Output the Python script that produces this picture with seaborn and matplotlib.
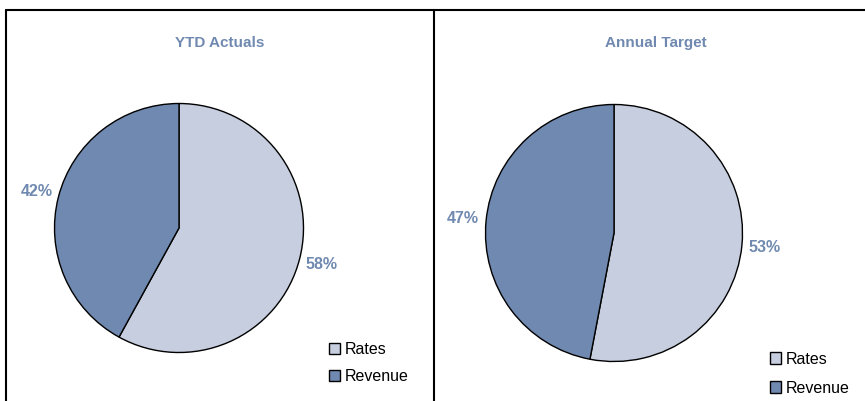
import matplotlib
matplotlib.use("Agg")
import matplotlib.pyplot as plt
import seaborn as sns
from matplotlib.lines import Line2D

# Data
categories = ["Rates", "Revenue"]
ytd_actuals = [58, 42]
annual_target = [53, 47]
titles = ["YTD Actuals", "Annual Target"]

sns.set_theme(style="white")
plt.rcParams["font.family"] = ["Liberation Sans", "DejaVu Sans"]

colors = sns.color_palette(["#c6cedf", "#7089b0"])
label_color = "#7089b0"

W, H = 865, 401
fig = plt.figure(figsize=(W / 100, H / 100), dpi=100)
fig.patch.set_facecolor("white")


def fx(px):
    return px / W


def fy(py):
    return 1 - py / H


panels = [
    dict(values=ytd_actuals, title=titles[0], center=(179, 228), r=124.5,
         title_x=220, legend_xy=(329, 342), spacing=0.78),
    dict(values=annual_target, title=titles[1], center=(614, 233), r=128.5,
         title_x=656, legend_xy=(770, 351.5), spacing=0.88),
]

for p in panels:
    cx, cy = p["center"]
    r = p["r"]
    ax = fig.add_axes([(cx - r) / W, (H - cy - r) / H, 2 * r / W, 2 * r / H])
    wedges, _, autotexts = ax.pie(
        p["values"],
        colors=colors,
        startangle=90,
        counterclock=False,
        autopct=lambda v: f"{v:.0f}%",
        pctdistance=1.18,
        wedgeprops=dict(edgecolor="black", linewidth=1.0),
        textprops=dict(color=label_color, fontsize=11.5, fontweight="bold"),
    )
    for w in wedges:
        w.set_clip_on(False)
    for t in autotexts:
        t.set_clip_on(False)
    ax.set_xlim(-1, 1)
    ax.set_ylim(-1, 1)
    ax.set_aspect("equal")
    ax.axis("off")

    fig.text(fx(p["title_x"]), fy(43), p["title"], ha="center", va="center",
             color=label_color, fontsize=11, fontweight="bold")

    lx, ly = p["legend_xy"]
    ax.legend(
        wedges, categories,
        loc="upper left",
        bbox_to_anchor=(fx(lx), fy(ly)),
        bbox_transform=fig.transFigure,
        frameon=False,
        fontsize=11.5,
        handlelength=0.7,
        handleheight=0.7,
        handletextpad=0.3,
        labelspacing=p["spacing"],
        borderpad=0,
        borderaxespad=0,
        labelcolor="black",
    )

# Panel frames
frame_kw = dict(transform=fig.transFigure, color="black", linewidth=1.5)
fig.add_artist(Line2D([fx(6), fx(865)], [fy(10), fy(10)], **frame_kw))
fig.add_artist(Line2D([fx(6), fx(6)], [fy(10), fy(401)], **frame_kw))
fig.add_artist(Line2D([fx(434), fx(434)], [fy(10), fy(401)], **frame_kw))

fig.savefig("out.png", dpi=100, facecolor="white")
